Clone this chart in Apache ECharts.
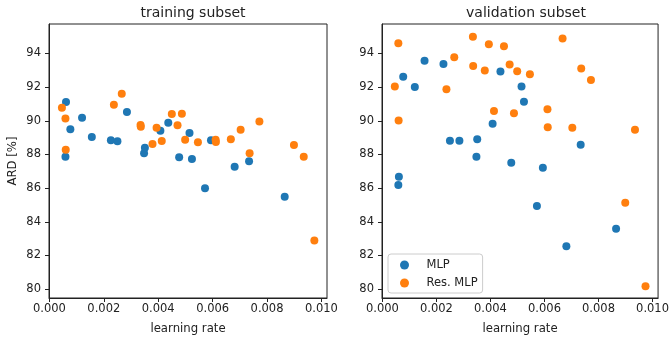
<!DOCTYPE html>
<html>
<head>
<meta charset="utf-8">
<script src="https://cdn.jsdelivr.net/npm/echarts@6/dist/echarts.min.js"></script>
<style>
  html, body { margin: 0; padding: 0; background: #fff; }
  #chart { width: 672px; height: 343px; }
</style>
</head>
<body>
<div id="chart"></div>
<script>
// learning rates of the sampled configs (shared by both subsets)
const lrMlp = [0.00059, 0.00061, 0.00077, 0.0012, 0.00156, 0.00226, 0.0025, 0.00285, 0.00348, 0.00351,
  0.00408, 0.00437, 0.00477, 0.00515, 0.00524, 0.00572, 0.00594, 0.00681, 0.00734, 0.00865];
const trainMlp = [87.86, 91.11, 89.49, 90.18, 89.03, 88.85, 88.78, 90.52, 88.07, 88.40,
  89.41, 89.88, 87.83, 89.27, 87.73, 85.99, 88.85, 87.27, 87.59, 85.49];
const valMlp = [86.18, 86.68, 92.61, 92.0, 93.56, 93.38, 88.81, 88.81, 87.86, 88.9,
  89.82, 92.93, 87.5, 92.04, 91.13, 84.94, 87.21, 82.55, 88.58, 83.59];

const lrRes = [0.00046, 0.00059, 0.0006, 0.00237, 0.00266, 0.00335, 0.00336, 0.00379, 0.00394, 0.00413,
  0.0045, 0.00471, 0.00487, 0.00499, 0.00546, 0.00611, 0.00612, 0.00667, 0.00703, 0.00736,
  0.00772, 0.00899, 0.00935, 0.00974];
const trainRes = [90.77, 90.14, 88.28, 90.95, 91.6, 89.75, 89.65, 88.62, 89.59, 88.8,
  90.4, 89.73, 90.42, 88.87, 88.72, 88.88, 88.74, 88.9, 89.47, 88.07,
  89.96, 88.56, 87.86, 82.88];
const valRes = [92.04, 94.61, 90.02, 91.88, 93.78, 94.99, 93.25, 92.99, 94.55, 90.58,
  94.43, 93.35, 90.44, 92.95, 92.77, 90.68, 89.61, 94.89, 89.58, 93.11,
  92.42, 85.13, 89.47, 80.17];

const xTicks = [0, 0.002, 0.004, 0.006, 0.008, 0.010];
const yTicks = [80, 82, 84, 86, 88, 90, 92, 94];

const BLUE = "#1f77b4";
const ORANGE = "#ff7f0e";
const FONT = "DejaVu Sans";
const INK = "#222";

const zip = (xs, ys) => xs.map((x, i) => [x, ys[i]]);

const chart = echarts.init(document.getElementById("chart"), null, { renderer: "canvas" });

function xAxis(gridIndex) {
  return {
    type: "value",
    gridIndex,
    min: -0.000015,
    max: 0.010205,
    name: "learning rate",
    nameLocation: "middle",
    nameGap: 25,
    nameTextStyle: { color: INK, fontFamily: FONT, fontSize: 11.7 },
    axisLine: { show: true, onZero: false, lineStyle: { color: INK, width: 1 } },
    axisTick: { show: true, inside: false, length: 4, customValues: xTicks, lineStyle: { color: INK } },
    axisLabel: {
      customValues: xTicks,
      margin: 5,
      color: INK,
      fontFamily: FONT,
      fontSize: 11.5,
      formatter: (v) => v.toFixed(3)
    },
    splitLine: { show: false }
  };
}

function yAxis(gridIndex, name) {
  return {
    type: "value",
    gridIndex,
    min: 79.47,
    max: 95.75,
    name,
    nameLocation: "middle",
    nameGap: 30,
    nameTextStyle: { color: INK, fontFamily: FONT, fontSize: 11.7 },
    axisLine: { show: true, onZero: false, lineStyle: { color: INK, width: 1 } },
    axisTick: { show: true, inside: false, length: 4, customValues: yTicks, lineStyle: { color: INK } },
    axisLabel: {
      customValues: yTicks,
      margin: 8,
      color: INK,
      fontFamily: FONT,
      fontSize: 11.5
    },
    splitLine: { show: false }
  };
}

function scatter(name, data, color, idx) {
  return {
    name,
    type: "scatter",
    xAxisIndex: idx,
    yAxisIndex: idx,
    data,
    symbol: "circle",
    symbolSize: 8,
    itemStyle: { color, opacity: 1 },
    emphasis: { disabled: true },
    animation: false
  };
}

chart.setOption({
  animation: false,
  backgroundColor: "#fff",
  textStyle: { fontFamily: FONT },
  title: [
    { text: "training subset", left: 188, top: 1, textAlign: "center",
      textStyle: { color: INK, fontFamily: FONT, fontSize: 14, fontWeight: "normal" } },
    { text: "validation subset", left: 521, top: 1, textAlign: "center",
      textStyle: { color: INK, fontFamily: FONT, fontSize: 14, fontWeight: "normal" } }
  ],
  grid: [
    { left: 49, top: 24, width: 278, height: 274, show: true, borderColor: INK, borderWidth: 1, backgroundColor: "transparent" },
    { left: 382, top: 24, width: 279, height: 274, show: true, borderColor: INK, borderWidth: 1, backgroundColor: "transparent" }
  ],
  xAxis: [xAxis(0), xAxis(1)],
  yAxis: [yAxis(0, "ARD [%]"), yAxis(1, "")],
  legend: {
    data: ["MLP", "Res. MLP"],
    orient: "vertical",
    left: 388,
    top: 254,
    padding: [5, 5, 4, 12],
    itemGap: 6,
    itemWidth: 34,
    itemHeight: 9,
    icon: "circle",
    backgroundColor: "#fff",
    borderColor: "#cccccc",
    borderWidth: 1,
    borderRadius: 3,
    selectedMode: false,
    textStyle: { color: INK, fontFamily: FONT, fontSize: 11.5 }
  },
  series: [
    scatter("MLP", zip(lrMlp, trainMlp), BLUE, 0),
    scatter("Res. MLP", zip(lrRes, trainRes), ORANGE, 0),
    scatter("MLP", zip(lrMlp, valMlp), BLUE, 1),
    scatter("Res. MLP", zip(lrRes, valRes), ORANGE, 1)
  ]
});
</script>
</body>
</html>
